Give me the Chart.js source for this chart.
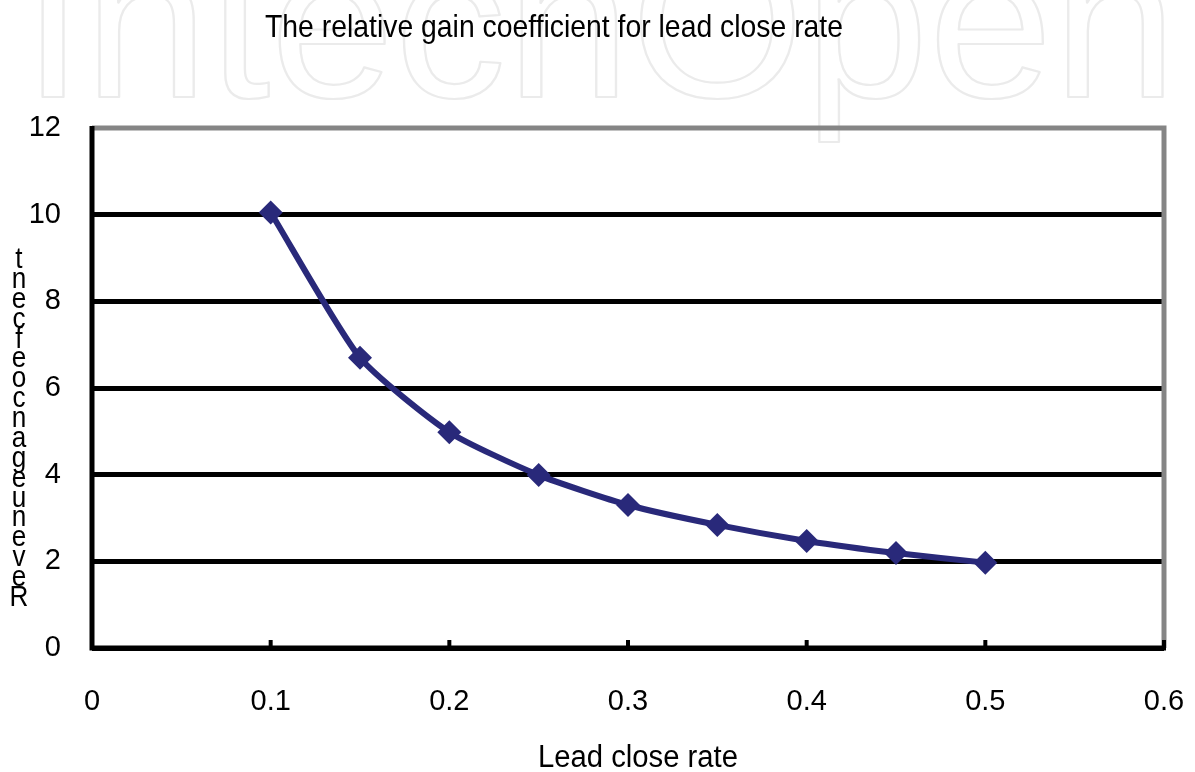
<!DOCTYPE html>
<html>
<head>
<meta charset="utf-8">
<script src="https://cdn.jsdelivr.net/npm/chart.js@4.4.0/dist/chart.umd.min.js"></script>
<style>
  html, body { margin: 0; padding: 0; background: #fff; }
  #wrap { width: 1195px; height: 772px; }
</style>
</head>
<body>
<div id="wrap"><canvas id="chart" width="1195" height="772"></canvas></div>
<script>
const leadRates = [0.1, 0.15, 0.2, 0.25, 0.3, 0.35, 0.4, 0.45, 0.5];
const gainValues = [10.05, 6.7, 4.98, 3.99, 3.3, 2.84, 2.47, 2.19, 1.97];
const xTicks = [0, 0.1, 0.2, 0.3, 0.4, 0.5, 0.6];
const yTicks = [0, 2, 4, 6, 8, 10, 12];
const chartTitle = "The relative gain coefficient for lead close rate";
const xTitle = "Lead close rate";
const yTitleChars = ["t", "n", "e", "c", "f", "e", "o", "c", "n", "a", "g", "e", "u", "n", "e", "v", "e", "R"];
const watermark = "IntechOpen";

const FONT = "'Liberation Sans', Arial, sans-serif";

function fittedText(ctx, text, cx, baseline, size, width) {
  ctx.save();
  ctx.font = `${size}px ${FONT}`;
  const w = ctx.measureText(text).width;
  ctx.translate(cx, baseline);
  ctx.scale(width / w, 1);
  ctx.textAlign = "center";
  ctx.textBaseline = "alphabetic";
  ctx.fillStyle = "#000";
  ctx.fillText(text, 0, 0);
  ctx.restore();
}

const decorPlugin = {
  id: "decor",
  beforeDraw(chart) {
    const ctx = chart.ctx;
    ctx.save();
    ctx.fillStyle = "#fff";
    ctx.fillRect(0, 0, chart.width, chart.height);
    // faint outlined watermark behind the chart
    ctx.font = `215px ${FONT}`;
    const w = ctx.measureText(watermark).width;
    ctx.translate(22, 97);
    ctx.scale(1155 / w, 1);
    ctx.lineWidth = 2.2;
    ctx.strokeStyle = "#ebebeb";
    ctx.lineJoin = "round";
    ctx.strokeText(watermark, 0, 0);
    ctx.restore();
  },
  afterDatasetsDraw(chart) {
    const ctx = chart.ctx;
    const area = chart.chartArea;
    const xs = chart.scales.x;

    ctx.save();
    // top and right borders
    ctx.strokeStyle = "#858585";
    ctx.lineWidth = 5;
    ctx.beginPath();
    ctx.moveTo(area.left, area.top);
    ctx.lineTo(area.right, area.top);
    ctx.lineTo(area.right, area.bottom);
    ctx.stroke();

    // left and bottom axes
    ctx.strokeStyle = "#000";
    ctx.beginPath();
    ctx.moveTo(area.left, area.top - 2);
    ctx.lineTo(area.left, area.bottom);
    ctx.lineTo(area.right + 2, area.bottom);
    ctx.stroke();

    // inward x ticks
    ctx.lineWidth = 4;
    for (const v of xTicks) {
      const px = xs.getPixelForValue(v);
      ctx.beginPath();
      ctx.moveTo(px, area.bottom);
      ctx.lineTo(px, area.bottom - 8);
      ctx.stroke();
    }
    ctx.restore();
  },
  afterDraw(chart) {
    const ctx = chart.ctx;
    fittedText(ctx, chartTitle, 554, 37, 32, 578);
    fittedText(ctx, xTitle, 638, 767, 31, 200);

    // stacked y title, letters overlapping like the original
    ctx.save();
    ctx.font = `29px ${FONT}`;
    ctx.fillStyle = "#000";
    ctx.textAlign = "center";
    ctx.textBaseline = "alphabetic";
    const top = 268, bottom = 606;
    const step = (bottom - top) / (yTitleChars.length - 1);
    yTitleChars.forEach((ch, i) => {
      ctx.save();
      ctx.translate(19, top + i * step);
      ctx.scale(0.9, 1);
      ctx.fillText(ch, 0, 0);
      ctx.restore();
    });
    ctx.restore();
  }
};

new Chart(document.getElementById("chart"), {
  type: "line",
  data: {
    datasets: [
      {
        data: leadRates.map((x, i) => ({ x, y: gainValues[i] })),
        borderColor: "#29297a",
        backgroundColor: "#29297a",
        borderWidth: 6,
        pointStyle: "rectRot",
        pointRadius: 12,
        pointBorderWidth: 0,
        tension: 0.2,
        fill: false,
      },
    ],
  },
  options: {
    responsive: false,
    animation: false,
    layout: { padding: { top: 128, right: 31, left: 0, bottom: 0 } },
    plugins: {
      legend: { display: false },
      tooltip: { enabled: false },
      title: { display: false },
    },
    scales: {
      x: {
        type: "linear",
        min: 0,
        max: 0.6,
        afterBuildTicks(scale) {
          scale.ticks = xTicks.map((v) => ({ value: v }));
        },
        afterFit(scale) {
          scale.height = 124;
          scale.paddingLeft = 0;
          scale.paddingRight = 0;
        },
        grid: { display: false, drawTicks: false },
        border: { display: false },
        ticks: {
          padding: 37,
          color: "#000",
          font: { family: FONT, size: 29 },
          callback: (v) => String(v),
        },
      },
      y: {
        min: 0,
        max: 12,
        afterBuildTicks(scale) {
          scale.ticks = yTicks.map((v) => ({ value: v }));
        },
        afterFit(scale) {
          scale.width = 92;
          scale.paddingTop = 0;
          scale.paddingBottom = 0;
        },
        grid: {
          color: (c) => (c.tick && c.tick.value === 12 ? "rgba(0,0,0,0)" : "#000"),
          lineWidth: 5,
          drawTicks: false,
        },
        border: { display: false },
        ticks: {
          padding: 31,
          color: "#000",
          font: { family: FONT, size: 29 },
        },
      },
    },
  },
  plugins: [decorPlugin],
});
</script>
</body>
</html>
